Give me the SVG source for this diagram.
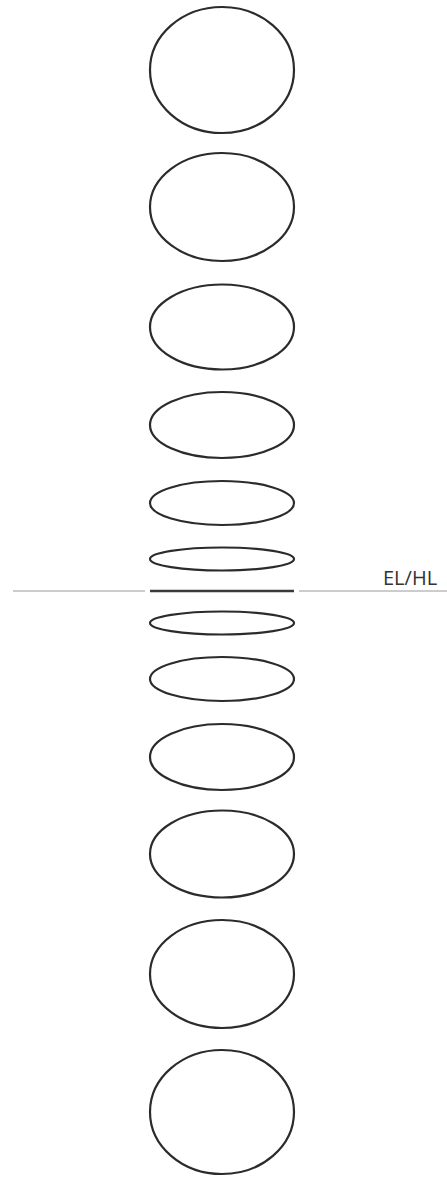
<svg xmlns="http://www.w3.org/2000/svg" width="447" height="1177" viewBox="0 0 447 1177">
<style>
.e{fill:none;stroke:#2b2b2b;stroke-width:2.2}
.g{stroke:#9a9a9a;stroke-width:1}
.t{font-family:"Open Sans","Noto Sans",sans-serif;font-size:20px;fill:#333}
</style>
<rect width="447" height="1177" fill="#fff"/>
<g id="ellipses">
<ellipse id="e1" class="e" cx="222" cy="70" rx="72" ry="63"/>
<ellipse id="e2" class="e" cx="222" cy="207" rx="72" ry="54"/>
<ellipse id="e3" class="e" cx="222" cy="327" rx="72" ry="42.5"/>
<ellipse id="e4" class="e" cx="222" cy="425" rx="72" ry="33"/>
<ellipse id="e5" class="e" cx="222" cy="503" rx="72" ry="22"/>
<ellipse id="e6" class="e" cx="222" cy="559" rx="72" ry="11.5"/>
<ellipse id="e7" class="e" cx="222" cy="623" rx="72" ry="11.5"/>
<ellipse id="e8" class="e" cx="222" cy="679" rx="72" ry="22"/>
<ellipse id="e9" class="e" cx="222" cy="757" rx="72" ry="33"/>
<ellipse id="e10" class="e" cx="222" cy="854" rx="72" ry="43.5"/>
<ellipse id="e11" class="e" cx="222" cy="974" rx="72" ry="54"/>
<ellipse id="e12" class="e" cx="222" cy="1112" rx="72" ry="62"/>
</g>
<g id="horizon">
<line class="g" x1="13" y1="591" x2="145" y2="591"/>
<line x1="150" y1="591" x2="294" y2="591" stroke="#3a3a3a" stroke-width="2.5"/>
<line class="g" x1="299" y1="591" x2="447" y2="591"/>
<text class="t" x="383" y="585">EL/HL</text>
</g>
</svg>
